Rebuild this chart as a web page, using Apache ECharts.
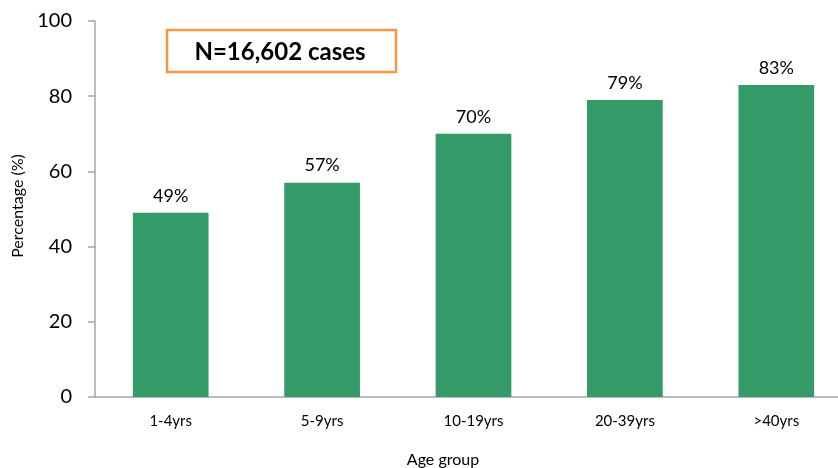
<!DOCTYPE html>
<html>
<head>
<meta charset="utf-8">
<script src="https://cdn.jsdelivr.net/npm/echarts@6/dist/echarts.min.js"></script>
<style>html,body{margin:0;padding:0;background:#fff}#c{width:838px;height:468px}</style>
</head>
<body>
<div id="c"></div>
<script>
var categories = ['1-4yrs', '5-9yrs', '10-19yrs', '20-39yrs', '>40yrs'];
var percentages = [49, 57, 70, 79, 83];
var yTicks = [0, 20, 40, 60, 80, 100];
var boxText = 'N=16,602 cases';
var xTitle = 'Age group';
var yTitle = 'Percentage (%)';

var FONT = 'Lato, "Open Sans", sans-serif';
var chart = echarts.init(document.getElementById('c'));
chart.setOption({
  animation: false,
  grid: { left: 95, top: 21, height: 376, width: 757, containLabel: false, outerBoundsMode: 'none' },
  xAxis: {
    type: 'category',
    data: categories,
    axisLine: { show: true, lineStyle: { color: '#A6A6A6', width: 1.5 } },
    axisTick: { show: false },
    axisLabel: { color: '#000', fontSize: 15, fontFamily: FONT, margin: 17 }
  },
  yAxis: {
    type: 'value',
    min: yTicks[0],
    max: yTicks[yTicks.length - 1],
    interval: 20,
    axisLine: { show: true, lineStyle: { color: '#A6A6A6', width: 1.5 } },
    axisTick: { show: true, length: 7, lineStyle: { color: '#A6A6A6', width: 1.5 } },
    splitLine: { show: false },
    axisLabel: { color: '#000', fontSize: 20, fontFamily: FONT, margin: 23 }
  },
  series: [{
    type: 'bar',
    data: percentages,
    barWidth: '50%',
    itemStyle: { color: '#339A68' },
    label: {
      show: true, position: 'top', distance: 8,
      formatter: '{c}%', color: '#000', fontSize: 18, fontFamily: FONT
    }
  }],
  graphic: [
    {
      type: 'rect', x: 167, y: 30,
      shape: { width: 229, height: 42 },
      style: { fill: '#fff', stroke: '#F79646', lineWidth: 2.5 }
    },
    {
      type: 'text', x: 280, y: 52,
      style: { text: boxText, fill: '#000', font: 'bold 24px ' + FONT, textAlign: 'center', textVerticalAlign: 'middle' }
    },
    {
      type: 'text', x: 443, y: 460,
      style: { text: xTitle, fill: '#000', font: '16px ' + FONT, textAlign: 'center', textVerticalAlign: 'middle' }
    },
    {
      type: 'text', x: 18, y: 206,
      rotation: Math.PI / 2,
      style: { text: yTitle, fill: '#000', font: '16px ' + FONT, textAlign: 'center', textVerticalAlign: 'middle' }
    }
  ]
});
</script>
</body>
</html>
